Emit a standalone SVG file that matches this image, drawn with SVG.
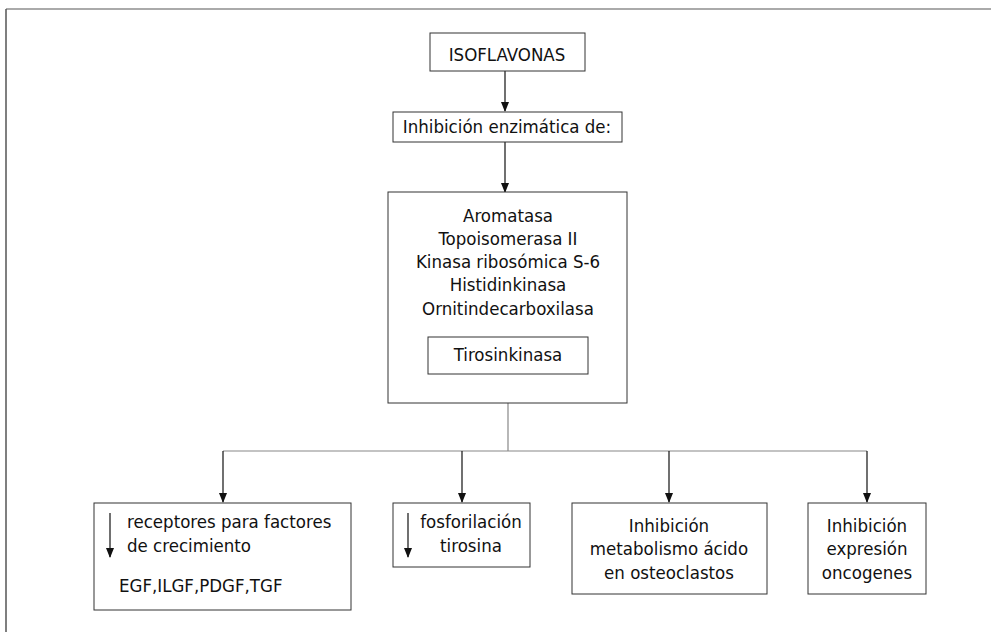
<svg xmlns="http://www.w3.org/2000/svg" width="991" height="632" viewBox="0 0 991 632">
<style>
text{font-family:"DejaVu Sans Condensed","Liberation Sans",sans-serif;font-size:18.5px;fill:#111}
.c{text-anchor:middle}
.box{fill:#fff;stroke:#333;stroke-width:1}
.ln{stroke:#111;stroke-width:1.2;fill:none}
.gl{stroke:#888;stroke-width:1.2;fill:none}
</style>
<defs>
<marker id="ah" markerWidth="10" markerHeight="12" refX="9" refY="4" orient="auto" markerUnits="userSpaceOnUse">
<path d="M0,0 L10,4 L0,8 Z" fill="#111"/>
</marker>
</defs>
<rect width="991" height="632" fill="#fff"/>
<g id="frame">
<line x1="6" y1="9" x2="991" y2="9" stroke="#aaa" stroke-width="2"/>
<line x1="6" y1="9" x2="6" y2="632" stroke="#555" stroke-width="1.5"/>
</g>
<g id="connectors">
<line class="ln" x1="505" y1="71" x2="505" y2="111" marker-end="url(#ah)"/>
<line class="ln" x1="505" y1="142" x2="505" y2="192" marker-end="url(#ah)"/>
<polyline class="gl" points="508,374 508,451"/>
<line class="gl" x1="223" y1="451" x2="867" y2="451"/>
<line class="ln" x1="223" y1="451" x2="223" y2="502" marker-end="url(#ah)"/>
<line class="ln" x1="462" y1="451" x2="462" y2="502" marker-end="url(#ah)"/>
<line class="ln" x1="669" y1="451" x2="669" y2="502" marker-end="url(#ah)"/>
<line class="ln" x1="867" y1="451" x2="867" y2="502" marker-end="url(#ah)"/>
</g>
<g id="isoflavonas">
<rect class="box" x="430" y="33" width="155" height="38"/>
<text class="c" x="507" y="61">ISOFLAVONAS</text>
</g>
<g id="inhibicion">
<rect class="box" x="393" y="112" width="229" height="30"/>
<text class="c" x="507" y="133">Inhibición enzimática de:</text>
</g>
<g id="enzimas">
<rect class="box" x="388" y="192" width="239" height="211"/>
<text class="c" x="508" y="222">Aromatasa</text>
<text class="c" x="508" y="245">Topoisomerasa II</text>
<text class="c" x="508" y="268">Kinasa ribosómica S-6</text>
<text class="c" x="508" y="291">Histidinkinasa</text>
<text class="c" x="508" y="315">Ornitindecarboxilasa</text>
</g>
<g id="tirosinkinasa">
<rect class="box" x="428" y="337" width="160" height="37" stroke="#888"/>
<text class="c" x="508" y="361">Tirosinkinasa</text>
</g>
<g id="receptores">
<rect class="box" x="94" y="503" width="257" height="107"/>
<line class="ln" x1="110" y1="513" x2="110" y2="557" marker-end="url(#ah)"/>
<text x="127" y="528">receptores para factores</text>
<text x="127" y="552">de crecimiento</text>
<text x="119" y="592">EGF,ILGF,PDGF,TGF</text>
</g>
<g id="fosforilacion">
<rect class="box" x="393" y="503" width="137" height="64"/>
<line class="ln" x1="408" y1="513" x2="408" y2="557" marker-end="url(#ah)"/>
<text class="c" x="471" y="528">fosforilación</text>
<text class="c" x="471" y="552">tirosina</text>
</g>
<g id="osteoclastos">
<rect class="box" x="572" y="503" width="195" height="91"/>
<text class="c" x="669" y="532">Inhibición</text>
<text class="c" x="669" y="555">metabolismo ácido</text>
<text class="c" x="669" y="579">en osteoclastos</text>
</g>
<g id="oncogenes">
<rect class="box" x="808" y="503" width="118" height="91"/>
<text class="c" x="867" y="532">Inhibición</text>
<text class="c" x="867" y="555">expresión</text>
<text class="c" x="867" y="579">oncogenes</text>
</g>
</svg>
